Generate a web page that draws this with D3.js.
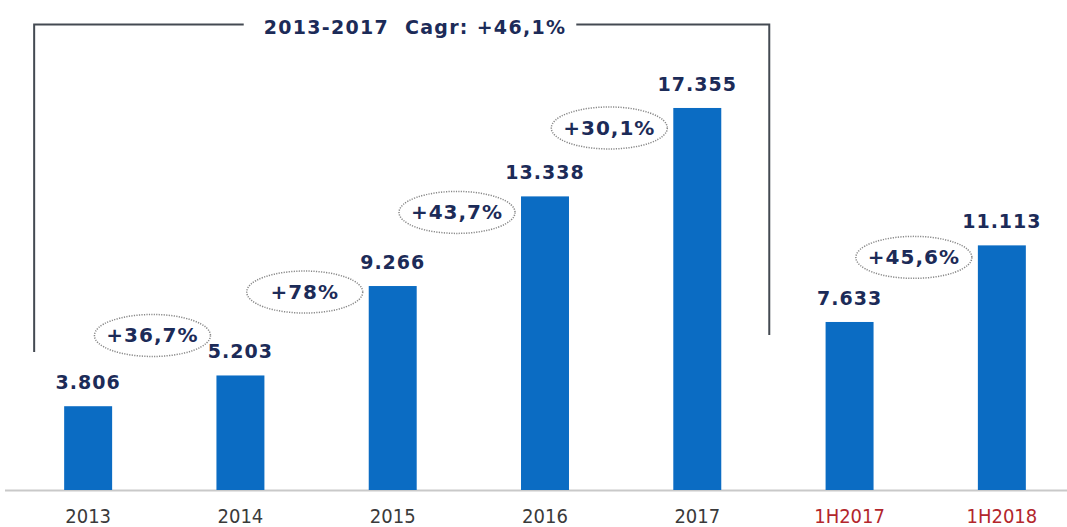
<!DOCTYPE html>
<html>
<head>
<meta charset="utf-8">
<script src="https://cdn.jsdelivr.net/npm/d3@7"></script>
<style>
  html, body { margin: 0; padding: 0; background: #ffffff; }
  svg { display: block; }
</style>
</head>
<body>
<svg id="chart" width="1067" height="527"></svg>
<script>
// Categories and values
const categories = ["2013", "2014", "2015", "2016", "2017", "1H2017", "1H2018"];
const values = [3806, 5203, 9266, 13338, 17355, 7633, 11113];
const valueLabels = ["3.806", "5.203", "9.266", "13.338", "17.355", "7.633", "11.113"];
const halfYear = ["1H2017", "1H2018"];

// Year-on-year growth callouts: between category index `from` and `to`
const growthFrom = [0, 1, 2, 3, 5];
const growthTo = [1, 2, 3, 4, 6];
const growthLabels = ["+36,7%", "+78%", "+43,7%", "+30,1%", "+45,6%"];

// Compound growth bracket over the annual series
const cagrTitle = "2013-2017  Cagr: +46,1%";
const cagrFirst = "2013";
const cagrLast = "2017";

// Vertical placement of each callout relative to the top of its later bar
const growthOffsetY = [-40, 6, 16, 20, 12];

const W = 1067, H = 527;
const baseY = 490;
const svg = d3.select("#chart");

const x = d3.scaleBand()
  .domain(categories)
  .range([12, 1078])
  .paddingInner(0.685)
  .paddingOuter(0.3425);

const y = d3.scaleLinear()
  .domain([0, 22260])
  .range([baseY, 0]);

const BAR = "#0b6cc3";
const NAVY = "#1c2b58";

// Baseline
svg.append("line")
  .attr("x1", 5).attr("x2", W)
  .attr("y1", baseY + 0.5).attr("y2", baseY + 0.5)
  .attr("stroke", "#c9c9c9").attr("stroke-width", 2);

// Bars
svg.selectAll("rect.bar")
  .data(categories)
  .join("rect")
  .attr("class", "bar")
  .attr("x", d => x(d))
  .attr("width", x.bandwidth())
  .attr("y", (d, i) => y(values[i]))
  .attr("height", (d, i) => baseY - y(values[i]))
  .attr("fill", BAR);

// Value labels
svg.selectAll("text.val")
  .data(categories)
  .join("text")
  .attr("class", "val")
  .attr("x", d => x(d) + x.bandwidth() / 2)
  .attr("y", (d, i) => y(values[i]) - 17)
  .attr("text-anchor", "middle")
  .attr("font-family", "DejaVu Sans, Verdana, sans-serif")
  .attr("font-weight", "bold")
  .attr("font-size", 19)
  .attr("letter-spacing", 1)
  .attr("fill", NAVY)
  .text((d, i) => valueLabels[i]);

// Category axis labels
svg.selectAll("text.cat")
  .data(categories)
  .join("text")
  .attr("class", "cat")
  .attr("x", d => x(d) + x.bandwidth() / 2)
  .attr("y", 523)
  .attr("text-anchor", "middle")
  .attr("font-family", "DejaVu Sans Condensed, DejaVu Sans, sans-serif")
  .attr("font-size", 20)
  .attr("fill", d => halfYear.includes(d) ? "#b3262c" : "#3a3a3a")
  .text(d => d);

// Growth callouts: dotted ellipse with percentage
const growth = svg.selectAll("g.growth")
  .data(growthLabels)
  .join("g")
  .attr("class", "growth")
  .attr("transform", (d, i) => {
    const next = categories[growthTo[i]];
    const cx = x(next) - 64;
    const cy = y(values[growthTo[i]]) + growthOffsetY[i];
    return `translate(${cx},${cy})`;
  });

growth.append("ellipse")
  .attr("rx", 58).attr("ry", 21)
  .attr("fill", "none")
  .attr("stroke", "#888888")
  .attr("stroke-width", 1.5)
  .attr("stroke-dasharray", "1.2,1.3");

growth.append("text")
  .attr("x", 0)
  .attr("y", 7)
  .attr("text-anchor", "middle")
  .attr("font-family", "DejaVu Sans, Verdana, sans-serif")
  .attr("font-weight", "bold")
  .attr("font-size", 20)
  .attr("letter-spacing", 1)
  .attr("fill", NAVY)
  .text(d => d);

// CAGR bracket
const bx0 = x(cagrFirst) - 30;
const bx1 = x(cagrLast) + x.bandwidth() + 48;
const by = 24.5;

const title = svg.append("text")
  .attr("x", 415)
  .attr("y", 34)
  .attr("text-anchor", "middle")
  .attr("font-family", "DejaVu Sans, sans-serif")
  .attr("font-weight", "bold")
  .attr("font-size", 19)
  .attr("letter-spacing", 1.3)
  .attr("fill", NAVY)
  .attr("xml:space", "preserve")
  .style("white-space", "pre")
  .text(cagrTitle);

const tb = title.node().getBBox();

const bracket = svg.append("g")
  .attr("fill", "none")
  .attr("stroke", "#444a52")
  .attr("stroke-width", 2);

bracket.append("path")
  .attr("d", `M${bx0},352 V${by} H${tb.x - 20}`);
bracket.append("path")
  .attr("d", `M${tb.x + tb.width + 10},${by} H${bx1} V335`);
</script>
</body>
</html>
